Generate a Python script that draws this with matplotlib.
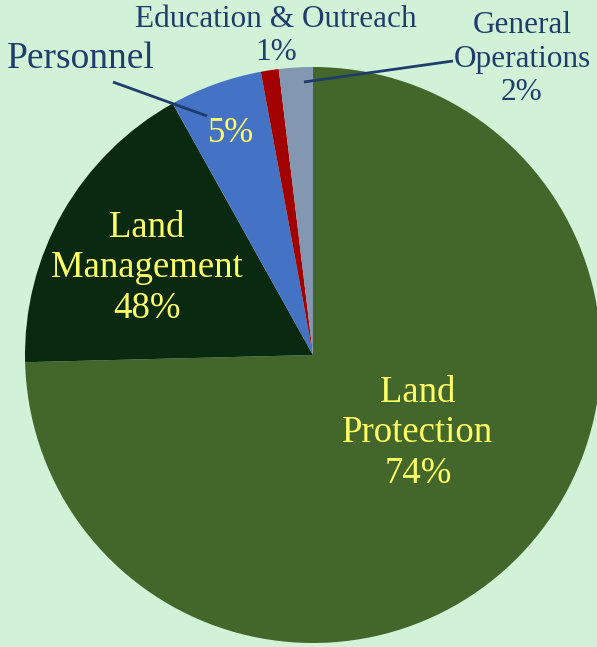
import matplotlib.pyplot as plt

# wedge sizes and the label text as printed on the chart
categories = ["Land Protection", "Land Management", "Personnel", "Education & Outreach", "General Operations"]
shares = [74.6, 17.3, 5.2, 1.0, 1.9]
pct_labels = ["74%", "48%", "5%", "1%", "2%"]
colors = ["#43672a", "#092a11", "#4472c4", "#a30000", "#8497b0"]

BG = "#d1f2d6"
YELLOW = "#ffff66"
NAVY = "#1f3c6c"
W, H = 597, 647


def py(y):
    # pixel row -> data y
    return H - y


fig = plt.figure(figsize=(W / 100, H / 100), dpi=100, facecolor=BG)
ax = fig.add_axes([0, 0, 1, 1])
ax.set_facecolor(BG)

ax.pie(shares, colors=colors, startangle=90, counterclock=False,
       center=(313, py(355)), radius=288, frame=False,
       wedgeprops=dict(linewidth=0))
ax.set_xlim(0, W)
ax.set_ylim(0, H)
ax.set_aspect("equal")
ax.axis("off")

font = "Liberation Serif"
inner = dict(color=YELLOW, family=font, ha="center", va="center", linespacing=1.22)
outer = dict(color=NAVY, family=font, ha="center", va="center", linespacing=1.22)

ax.text(418, py(433), "Land\nProtection\n" + pct_labels[0], fontsize=26.5, **inner)
ax.text(147, py(268), "Land\nManagement\n" + pct_labels[1], fontsize=26.5, **inner)
ax.text(231, py(134), pct_labels[2], fontsize=25, **inner)

ax.text(81, py(59), categories[2], fontsize=27, **outer)
ax.text(276, py(36), categories[3] + "\n" + pct_labels[3], fontsize=22.5, **outer)
ax.text(522, py(59), "General\nOperations\n" + pct_labels[4], fontsize=22.5, **outer)

# leader lines
ax.plot([113, 207], [py(82), py(116)], color=NAVY, lw=2.0, solid_capstyle="butt")
ax.plot([304, 453], [py(82), py(61)], color=NAVY, lw=2.0, solid_capstyle="butt")

fig.savefig("out.png", dpi=100, facecolor=BG)
